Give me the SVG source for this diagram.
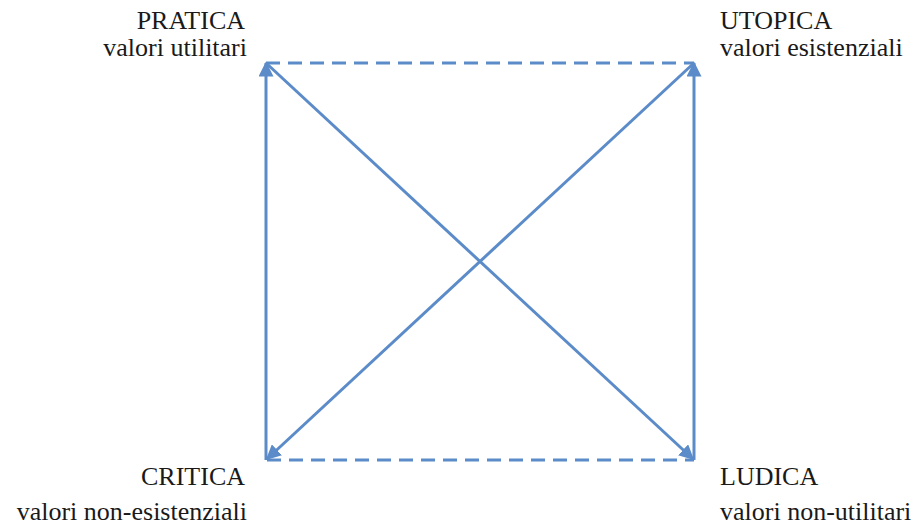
<svg xmlns="http://www.w3.org/2000/svg" width="919" height="525" viewBox="0 0 919 525">
<style>
.t{font-family:"Liberation Serif","Times New Roman",serif;font-size:26px;fill:#1a1a1a}
.r{text-anchor:end}
.c{stroke:#5b8bc8;stroke-width:3;fill:none}
.d{stroke-dasharray:14 8}
</style>
<defs>
<marker id="ah" viewBox="0 0 10 10" refX="9" refY="5" markerWidth="5" markerHeight="5" markerUnits="strokeWidth" orient="auto">
<path d="M0,0L10,5L0,10z" fill="#5b8bc8"/>
</marker>
</defs>
<rect width="919" height="525" fill="#fff"/>
<g id="connectors">
<line class="c d" x1="266" y1="63" x2="694" y2="63"/>
<line class="c d" x1="267" y1="460" x2="694" y2="460"/>
<line class="c" x1="266" y1="460" x2="266" y2="63" marker-end="url(#ah)"/>
<line class="c" x1="694" y1="460" x2="694" y2="63" marker-end="url(#ah)"/>
<line class="c" x1="266" y1="63" x2="693" y2="459" marker-end="url(#ah)"/>
<line class="c" x1="694" y1="63" x2="267" y2="459" marker-end="url(#ah)"/>
</g>
<g id="pratica"><text class="t r" x="245" y="29">PRATICA</text><text class="t r" x="247" y="56">valori utilitari</text></g>
<g id="utopica"><text class="t" x="720" y="29">UTOPICA</text><text class="t" x="720" y="56">valori esistenziali</text></g>
<g id="critica"><text class="t r" x="245" y="485">CRITICA</text><text class="t r" x="247" y="520">valori non-esistenziali</text></g>
<g id="ludica"><text class="t" x="720" y="485">LUDICA</text><text class="t" x="720" y="520">valori non-utilitari</text></g>
</svg>
